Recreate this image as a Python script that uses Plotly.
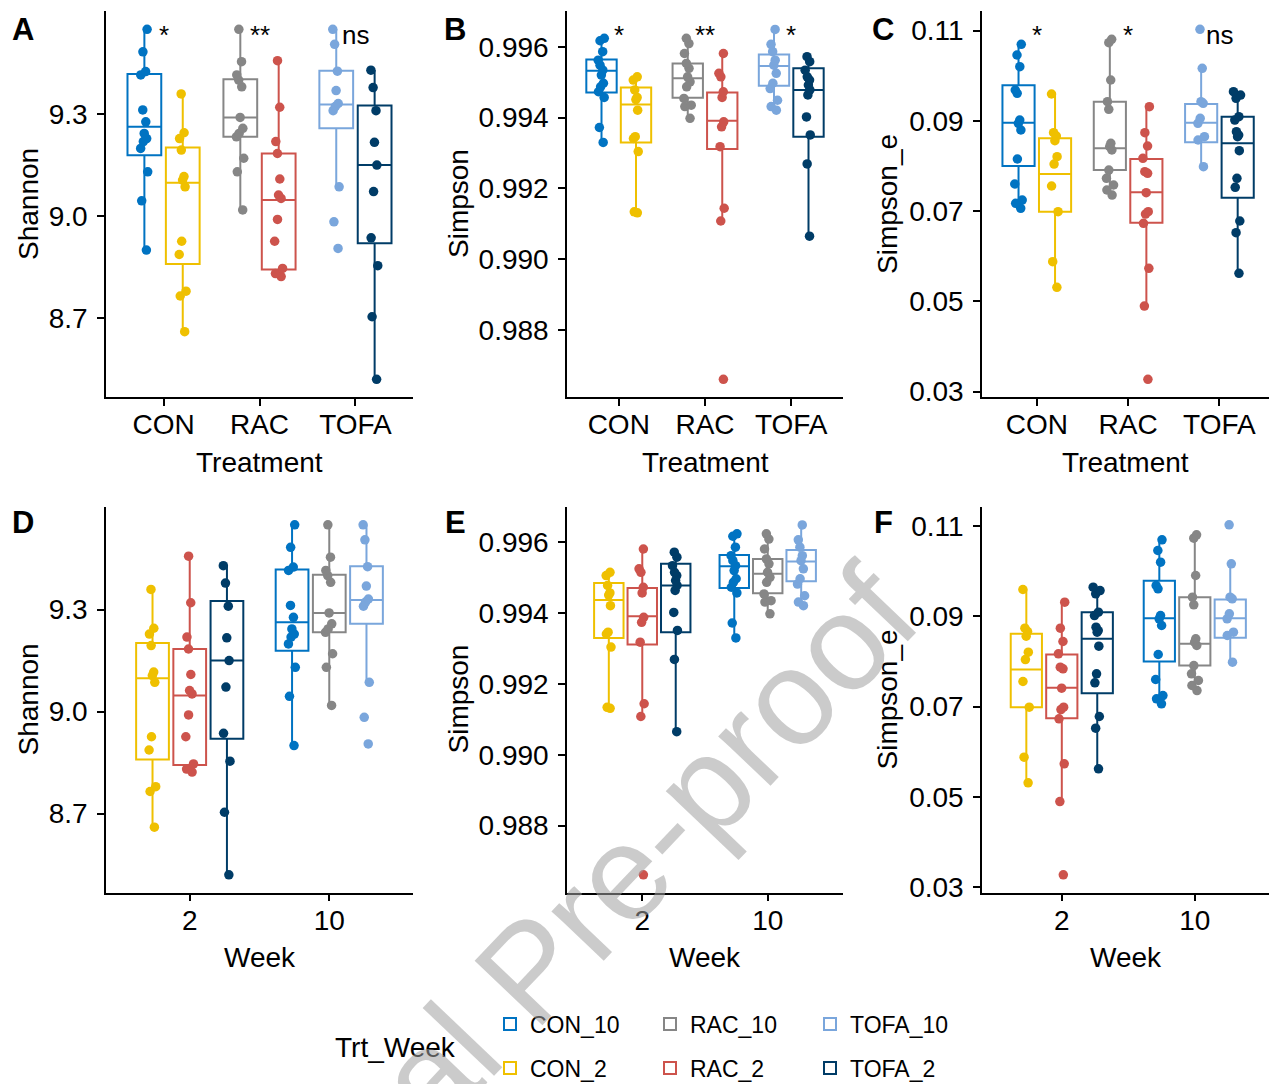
import plotly.graph_objects as go

W, H = 1269, 1084
FONT = "Liberation Sans, Arial, sans-serif"

groups = ["CON_10", "CON_2", "RAC_10", "RAC_2", "TOFA_10", "TOFA_2"]
colors = {"CON_10": "#0073C2", "CON_2": "#EFC000", "RAC_10": "#868686",
          "RAC_2": "#CD534C", "TOFA_10": "#7AA6DC", "TOFA_2": "#003C67"}
treatments = ["CON", "RAC", "TOFA"]
weeks = ["2", "10"]

# ---------------- Shannon ----------------
shannon_CON_10 = [9.549, 9.483, 9.425, 9.415, 9.312, 9.277, 9.243, 9.228, 9.219, 9.199, 9.130, 9.045, 8.900]
shannon_CON_2 = [9.359, 9.245, 9.228, 9.194, 9.116, 9.106, 9.086, 8.926, 8.887, 8.779, 8.765, 8.660]
shannon_RAC_10 = [9.549, 9.454, 9.415, 9.400, 9.380, 9.290, 9.258, 9.243, 9.233, 9.170, 9.130, 9.018]
shannon_RAC_2 = [9.457, 9.320, 9.219, 9.184, 9.109, 9.062, 9.052, 8.990, 8.926, 8.846, 8.831, 8.822]
shannon_TOFA_10 = [9.549, 9.505, 9.426, 9.369, 9.331, 9.322, 9.310, 9.086, 8.983, 8.905]
shannon_TOFA_2 = [9.429, 9.378, 9.310, 9.217, 9.150, 9.072, 8.936, 8.854, 8.704, 8.520]
# box stats: lower whisker, Q1, median, Q3, upper whisker
shannon_stats_CON_10 = [8.900, 9.179, 9.263, 9.418, 9.549]
shannon_stats_CON_2 = [8.660, 8.859, 9.098, 9.202, 9.359]
shannon_stats_RAC_10 = [9.018, 9.233, 9.290, 9.402, 9.549]
shannon_stats_RAC_2 = [8.822, 8.843, 9.047, 9.184, 9.457]
shannon_stats_TOFA_10 = [9.086, 9.258, 9.328, 9.427, 9.549]
shannon_stats_TOFA_2 = [8.520, 8.920, 9.150, 9.325, 9.429]

# ---------------- Simpson ----------------
simpson_CON_10 = [0.99624, 0.99617, 0.99586, 0.99562, 0.99548, 0.99534, 0.99520, 0.99497, 0.99487, 0.99473, 0.99457, 0.99372, 0.99330]
simpson_CON_2 = [0.99515, 0.99506, 0.99478, 0.99457, 0.99451, 0.99421, 0.99346, 0.99341, 0.99304, 0.99134, 0.99131]
simpson_RAC_10 = [0.99624, 0.99609, 0.99581, 0.99553, 0.99539, 0.99515, 0.99501, 0.99487, 0.99454, 0.99435, 0.99431, 0.99398]
simpson_RAC_2 = [0.99581, 0.99525, 0.99515, 0.99473, 0.99457, 0.99388, 0.99374, 0.99318, 0.99144, 0.99108, 0.98661]
simpson_TOFA_10 = [0.99649, 0.99607, 0.99586, 0.99562, 0.99548, 0.99525, 0.99497, 0.99482, 0.99449, 0.99431, 0.99421]
simpson_TOFA_2 = [0.99572, 0.99558, 0.99534, 0.99515, 0.99506, 0.99492, 0.99478, 0.99464, 0.99402, 0.99351, 0.99269, 0.99065]
simpson_stats_CON_10 = [0.99330, 0.99471, 0.99532, 0.99564, 0.99624]
simpson_stats_CON_2 = [0.99131, 0.99330, 0.99437, 0.99485, 0.99515]
simpson_stats_RAC_10 = [0.99398, 0.99456, 0.99511, 0.99553, 0.99624]
simpson_stats_RAC_2 = [0.99108, 0.99311, 0.99391, 0.99471, 0.99581]
simpson_stats_TOFA_10 = [0.99421, 0.99490, 0.99546, 0.99578, 0.99649]
simpson_stats_TOFA_2 = [0.99065, 0.99346, 0.99478, 0.99539, 0.99572]

# ---------------- Simpson_e ----------------
simpe_CON_10 = [0.10697, 0.10461, 0.10202, 0.09685, 0.09611, 0.09020, 0.08946, 0.08799, 0.08156, 0.07602, 0.07247, 0.07174, 0.07063]
simpe_CON_2 = [0.09597, 0.08740, 0.08666, 0.08562, 0.08208, 0.08045, 0.07558, 0.06989, 0.05881, 0.05312]
simpe_RAC_10 = [0.10808, 0.10734, 0.09907, 0.09427, 0.09257, 0.08503, 0.08429, 0.08356, 0.07912, 0.07728, 0.07580, 0.07469, 0.07358]
simpe_RAC_2 = [0.09316, 0.08740, 0.08444, 0.08171, 0.07875, 0.07838, 0.07410, 0.06989, 0.06937, 0.06730, 0.05733, 0.04898, 0.03273]
simpe_TOFA_10 = [0.11030, 0.10165, 0.09427, 0.09390, 0.09057, 0.08946, 0.08651, 0.08577, 0.07986]
simpe_TOFA_2 = [0.09648, 0.09574, 0.09500, 0.09094, 0.09020, 0.08762, 0.08688, 0.08651, 0.08341, 0.07728, 0.07528, 0.06782, 0.06524, 0.05622]
simpe_stats_CON_10 = [0.07063, 0.08001, 0.08961, 0.09789, 0.10697]
simpe_stats_CON_2 = [0.05312, 0.06989, 0.07824, 0.08614, 0.09597]
simpe_stats_RAC_10 = [0.07358, 0.07912, 0.08392, 0.09427, 0.10808]
simpe_stats_RAC_2 = [0.04898, 0.06745, 0.07417, 0.08156, 0.09316]
simpe_stats_TOFA_10 = [0.07986, 0.08525, 0.08961, 0.09375, 0.10165]
simpe_stats_TOFA_2 = [0.05622, 0.07299, 0.08503, 0.09094, 0.09648]

metrics = [
    {"title": "Shannon",
     "pts": {"CON_10": shannon_CON_10, "CON_2": shannon_CON_2, "RAC_10": shannon_RAC_10,
             "RAC_2": shannon_RAC_2, "TOFA_10": shannon_TOFA_10, "TOFA_2": shannon_TOFA_2},
     "stats": {"CON_10": shannon_stats_CON_10, "CON_2": shannon_stats_CON_2, "RAC_10": shannon_stats_RAC_10,
               "RAC_2": shannon_stats_RAC_2, "TOFA_10": shannon_stats_TOFA_10, "TOFA_2": shannon_stats_TOFA_2},
     "range": [8.468, 9.603], "tickvals": [8.7, 9.0, 9.3], "fmt": ".1f",
     "sig_trt": ["*", "**", "ns"]},
    {"title": "Simpson",
     "pts": {"CON_10": simpson_CON_10, "CON_2": simpson_CON_2, "RAC_10": simpson_RAC_10,
             "RAC_2": simpson_RAC_2, "TOFA_10": simpson_TOFA_10, "TOFA_2": simpson_TOFA_2},
     "stats": {"CON_10": simpson_stats_CON_10, "CON_2": simpson_stats_CON_2, "RAC_10": simpson_stats_RAC_10,
               "RAC_2": simpson_stats_RAC_2, "TOFA_10": simpson_stats_TOFA_10, "TOFA_2": simpson_stats_TOFA_2},
     "range": [0.98611, 0.99701], "tickvals": [0.988, 0.990, 0.992, 0.994, 0.996], "fmt": ".3f",
     "sig_trt": ["*", "**", "*"]},
    {"title": "Simpson_e",
     "pts": {"CON_10": simpe_CON_10, "CON_2": simpe_CON_2, "RAC_10": simpe_RAC_10,
             "RAC_2": simpe_RAC_2, "TOFA_10": simpe_TOFA_10, "TOFA_2": simpe_TOFA_2},
     "stats": {"CON_10": simpe_stats_CON_10, "CON_2": simpe_stats_CON_2, "RAC_10": simpe_stats_RAC_10,
               "RAC_2": simpe_stats_RAC_2, "TOFA_10": simpe_stats_TOFA_10, "TOFA_2": simpe_stats_TOFA_2},
     "range": [0.02882, 0.11436], "tickvals": [0.03, 0.05, 0.07, 0.09, 0.11], "fmt": ".2f",
     "sig_trt": ["*", "*", "ns"]},
]
sig_week = ["ns", "ns"]
panel_letters = ["A", "B", "C", "D", "E", "F"]

# layout geometry (pixels)
x_px = [(106, 413), (567, 843), (982, 1269)]
y_top = (11, 397)
y_bot = (506.5, 892.5)
xr_top = [[-0.6, 2.6], [-0.6, 2.6], [-0.6, 2.543]]
xr_bot = [[-0.6, 1.6], [-0.6, 1.6], [-0.6, 1.558]]
ytitle_x = [28, 458, 887]
letter_x = [23, 455, 883]

fig = go.Figure()
layout = dict(width=W, height=H, margin=dict(l=0, r=0, t=0, b=0, autoexpand=False),
              paper_bgcolor="white", plot_bgcolor="white",
              boxmode="group", boxgap=0.2, boxgroupgap=0.12,
              font=dict(family=FONT, size=28, color="black"))
annotations = []

def axis_common():
    return dict(showline=True, linecolor="black", linewidth=1.5, ticks="outside",
                ticklen=7, tickwidth=1.5, tickcolor="black", showgrid=False,
                zeroline=False, tickfont=dict(family=FONT, size=28, color="black"),
                automargin=False)

for row in range(2):
    for col, m in enumerate(metrics):
        idx = row * 3 + col + 1
        xa = "x" if idx == 1 else f"x{idx}"
        ya = "y" if idx == 1 else f"y{idx}"
        xkey = "xaxis" if idx == 1 else f"xaxis{idx}"
        ykey = "yaxis" if idx == 1 else f"yaxis{idx}"
        yp = y_top if row == 0 else y_bot
        cats = treatments if row == 0 else weeks
        xd = axis_common()
        xd.update(domain=[x_px[col][0] / W, x_px[col][1] / W], anchor=ya,
                  type="category", categoryorder="array", categoryarray=cats,
                  range=(xr_top if row == 0 else xr_bot)[col], ticklabelstandoff=-5)
        yd = axis_common()
        yd.update(domain=[1 - yp[1] / H, 1 - yp[0] / H], anchor=xa,
                  range=m["range"], tickvals=m["tickvals"], tickformat=m["fmt"],
                  ticklabelstandoff=4)
        layout[xkey] = xd
        layout[ykey] = yd

        for g in groups:
            trt, wk = g.split("_")
            xcat = trt if row == 0 else wk
            og = ("w" + wk) if row == 0 else trt
            s = m["stats"][g]
            showleg = (row == 0 and col == 0)
            fig.add_trace(go.Box(
                x=[xcat], lowerfence=[s[0]], q1=[s[1]], median=[s[2]], q3=[s[3]],
                upperfence=[s[4]], orientation="v", name=g, legendgroup=g,
                legend="legend" if wk == "10" else "legend2", showlegend=showleg,
                line=dict(color=colors[g], width=2), fillcolor="rgba(255,255,255,0)",
                marker=dict(color=colors[g], size=9), boxpoints=False, whiskerwidth=0,
                offsetgroup=og, alignmentgroup=f"a{idx}", xaxis=xa, yaxis=ya))
            pts = m["pts"][g]
            fig.add_trace(go.Box(
                x=[xcat] * len(pts), y=pts, orientation="v", name=g, legendgroup=g,
                showlegend=False, boxpoints="all", jitter=0.3, pointpos=0,
                line=dict(color="rgba(0,0,0,0)", width=0), fillcolor="rgba(0,0,0,0)",
                marker=dict(color=colors[g], size=9.5, opacity=1), whiskerwidth=0,
                offsetgroup=og, alignmentgroup=f"a{idx}", xaxis=xa, yaxis=ya,
                hoveron="points"))

        # significance labels
        sig_y = 1 - (35 if row == 0 else 530) / H
        labels = m["sig_trt"] if row == 0 else sig_week
        for c, lab in zip(cats, labels):
            annotations.append(dict(x=c, y=sig_y, xref=xa, yref="paper", text=lab,
                                    showarrow=False, font=dict(size=26, color="black"),
                                    xanchor="center", yanchor="middle"))
        # y title
        ycen = (yp[0] + yp[1]) / 2
        annotations.append(dict(x=ytitle_x[col] / W, y=1 - ycen / H, xref="paper", yref="paper",
                                text=m["title"], textangle=-90, showarrow=False,
                                font=dict(size=28, color="black"), xanchor="center", yanchor="middle"))
        # x title
        xcen = (x_px[col][0] + x_px[col][1]) / 2
        xt_y = 462 if row == 0 else 957
        annotations.append(dict(x=xcen / W, y=1 - xt_y / H, xref="paper", yref="paper",
                                text="Treatment" if row == 0 else "Week", showarrow=False,
                                font=dict(size=28, color="black"), xanchor="center", yanchor="middle"))
        # panel letter
        ly = 29 if row == 0 else 522
        annotations.append(dict(x=letter_x[col] / W, y=1 - ly / H, xref="paper", yref="paper",
                                text="<b>" + panel_letters[idx - 1] + "</b>", showarrow=False,
                                font=dict(size=31, color="black"), xanchor="center", yanchor="middle"))

# legend title
annotations.append(dict(x=395 / W, y=1 - 1047 / H, xref="paper", yref="paper", text="Trt_Week",
                        showarrow=False, font=dict(size=28, color="black"),
                        xanchor="center", yanchor="middle"))
# watermark
annotations.append(dict(x=529 / W, y=1 - 971 / H, xref="paper", yref="paper",
                        text="Journal Pre-proof", textangle=-46.4, showarrow=False,
                        font=dict(size=136, color="rgba(160,160,160,0.55)"),
                        xanchor="center", yanchor="middle"))

leg_common = dict(orientation="h", xanchor="left", yanchor="middle",
                  font=dict(family=FONT, size=23, color="black"),
                  bgcolor="rgba(0,0,0,0)", entrywidth=115, entrywidthmode="pixels",
                  itemclick=False, itemdoubleclick=False)
layout["legend"] = dict(x=490 / W, y=1 - 1024 / H, **leg_common)
layout["legend2"] = dict(x=490 / W, y=1 - 1068 / H, **leg_common)
layout["annotations"] = annotations

fig.update_layout(**layout)
fig.write_html("out.html", config={"displayModeBar": False},
               post_script="document.body.style.margin='0px';document.body.style.overflow='hidden';")
